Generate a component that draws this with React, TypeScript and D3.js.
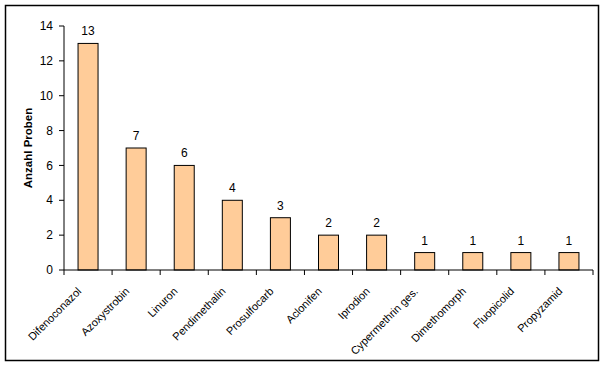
import React from "react";
import * as d3 from "d3";

const categories = ["Difenoconazol", "Azoxystrobin", "Linuron", "Pendimethalin", "Prosulfocarb", "Aclonifen", "Iprodion", "Cypermethrin ges.", "Dimethomorph", "Fluopicolid", "Propyzamid"];
const values = [13, 7, 6, 4, 3, 2, 2, 1, 1, 1, 1];
const yTicks = [0, 2, 4, 6, 8, 10, 12, 14];
const yTitle = "Anzahl Proben";

const W = 606, H = 368;
const left = 64, right = 593, top = 26, bottom = 270;
const font = "Liberation Sans, Arial, sans-serif";

export default function App() {
  const x = d3.scaleBand<string>().domain(categories).range([left, right]).paddingInner(0).paddingOuter(0);
  const y = d3.scaleLinear().domain([0, 14]).range([bottom, top]);
  const bw = 20;
  return (
    <svg width={W} height={H} style={{ position: "absolute", left: 0, top: 0 }}>
      <rect x={0} y={0} width={W} height={H} fill="#fff" />
      <rect x={5.5} y={5.5} width={593} height={355} fill="none" stroke="#000" strokeWidth={1.5} />
      {categories.map((c, i) => {
        const cx = x(c)! + x.bandwidth() / 2;
        return (
          <g key={c}>
            <rect x={cx - bw / 2} y={y(values[i])} width={bw} height={bottom - y(values[i])} fill="#FFCC99" stroke="#000" strokeWidth={1} />
            <text x={cx} y={y(values[i]) - 8} textAnchor="middle" fontFamily={font} fontSize={12} fill="#000">{values[i]}</text>
            <text transform={`translate(${cx - 6},${bottom + 22}) rotate(-45)`} textAnchor="end" fontFamily={font} fontSize={11} fill="#000">{c}</text>
          </g>
        );
      })}
      <line x1={left} x2={left} y1={top} y2={bottom} stroke="#000" />
      <line x1={left} x2={right} y1={bottom} y2={bottom} stroke="#000" />
      {yTicks.map((t) => (
        <g key={t}>
          <line x1={left - 5} x2={left} y1={y(t)} y2={y(t)} stroke="#000" />
          <text x={left - 11} y={y(t)} dy="0.35em" textAnchor="end" fontFamily={font} fontSize={12} fill="#000">{t}</text>
        </g>
      ))}
      {d3.range(categories.length + 1).map((i) => {
        const tx = left + i * x.bandwidth();
        return <line key={i} x1={tx} x2={tx} y1={bottom} y2={bottom + 5} stroke="#000" />;
      })}
      <text transform={`translate(32,${(top + bottom) / 2}) rotate(-90)`} textAnchor="middle" fontFamily={font} fontSize={11.5} fontWeight="bold" fill="#000">{yTitle}</text>
    </svg>
  );
}
